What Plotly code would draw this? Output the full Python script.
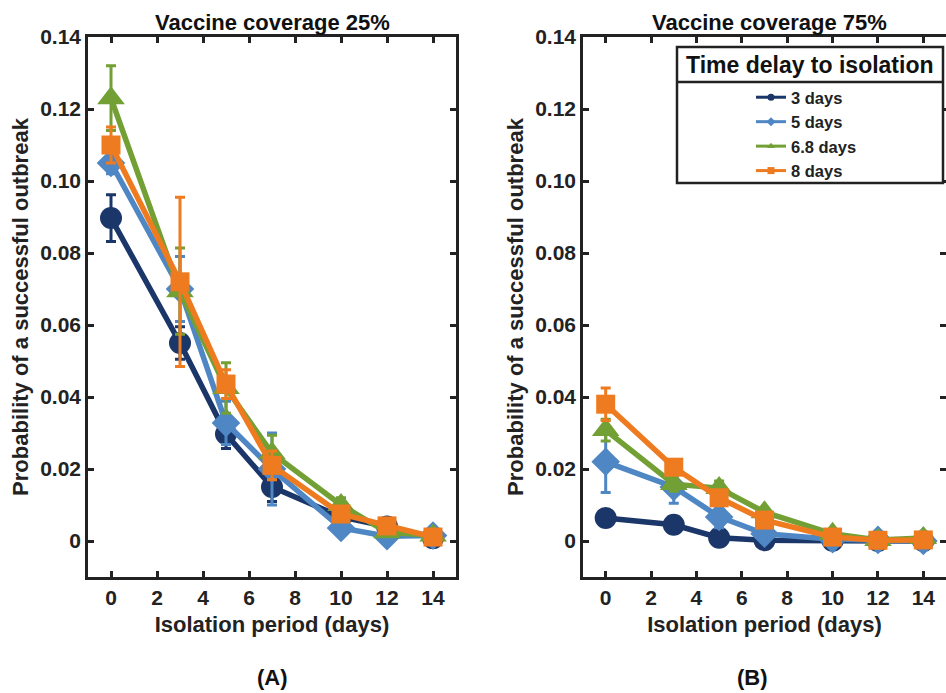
import plotly.graph_objects as go
from plotly.subplots import make_subplots

isolation_days = [0, 3, 5, 7, 10, 12, 14]
series_names = ["3 days", "5 days", "6.8 days", "8 days"]

# Panel A: vaccine coverage 25%
a_3d = [0.0897, 0.0550, 0.0297, 0.0150, 0.0067, 0.0040, 0.0008]
a_5d = [0.1050, 0.0700, 0.0328, 0.0200, 0.0036, 0.0013, 0.0015]
a_68d = [0.1230, 0.0694, 0.0425, 0.0244, 0.0100, 0.0024, 0.0015]
a_8d = [0.1100, 0.0720, 0.0436, 0.0210, 0.0075, 0.0042, 0.0011]
a_3d_err = [0.0065, 0.0045, 0.0040, 0.0040, 0.0010, 0.0005, 0.0003]
a_5d_err = [0.0030, 0.0090, 0.0060, 0.0100, 0.0010, 0.0010, 0.0005]
a_68d_err = [0.0090, 0.0120, 0.0070, 0.0050, 0.0020, 0.0010, 0.0005]
a_8d_err = [0.0050, 0.0235, 0.0040, 0.0040, 0.0020, 0.0010, 0.0005]

# Panel B: vaccine coverage 75%
b_3d = [0.0064, 0.0045, 0.0009, 0.0002, 0.0001, 0.0000, 0.0000]
b_5d = [0.0220, 0.0150, 0.0067, 0.0020, 0.0005, 0.0003, 0.0000]
b_68d = [0.0308, 0.0158, 0.0147, 0.0080, 0.0020, 0.0003, 0.0008]
b_8d = [0.0380, 0.0205, 0.0120, 0.0058, 0.0011, 0.0002, 0.0003]
b_3d_err = [0.0008, 0.0008, 0.0005, 0.0003, 0.0002, 0.0001, 0.0001]
b_5d_err = [0.0085, 0.0045, 0.0030, 0.0020, 0.0005, 0.0003, 0.0003]
b_68d_err = [0.0030, 0.0020, 0.0020, 0.0010, 0.0005, 0.0003, 0.0003]
b_8d_err = [0.0045, 0.0010, 0.0010, 0.0010, 0.0005, 0.0003, 0.0003]

y_tick_vals = [0, 0.02, 0.04, 0.06, 0.08, 0.10, 0.12, 0.14]
y_tick_text = ["0", "0.02", "0.04", "0.06", "0.08", "0.10", "0.12", "0.14"]
x_tick_vals = [0, 2, 4, 6, 8, 10, 12, 14]
legend_title = "Time delay to isolation"

colors = ["#1b3668", "#4f86c4", "#72a035", "#ee7b1f"]
symbols = ["circle", "diamond", "triangle-up", "square"]
sizes = [22, 22, 24, 19]

FONT = "Liberation Sans, Arial, sans-serif"
INK = "#222222"

fig = make_subplots(rows=1, cols=2)

panels = [
    (1, [a_3d, a_5d, a_68d, a_8d], [a_3d_err, a_5d_err, a_68d_err, a_8d_err]),
    (2, [b_3d, b_5d, b_68d, b_8d], [b_3d_err, b_5d_err, b_68d_err, b_8d_err]),
]
for col, ys, errs in panels:
    for i in range(4):
        fig.add_trace(go.Scatter(
            x=isolation_days, y=ys[i],
            mode="lines+markers",
            line=dict(color=colors[i], width=5.5),
            marker=dict(symbol=symbols[i], size=sizes[i], color=colors[i]),
            error_y=dict(type="data", array=errs[i], visible=True,
                         color=colors[i], thickness=3, width=5),
            showlegend=False, name=series_names[i],
        ), row=1, col=col)

# legend entries (small markers, as in the reference legend)
for i in range(4):
    fig.add_trace(go.Scatter(
        x=[None], y=[None], mode="lines+markers",
        line=dict(color=colors[i], width=3),
        marker=dict(symbol=symbols[i], size=7, color=colors[i]),
        name="<b>%s</b>" % series_names[i], showlegend=True,
    ), row=1, col=2)

axis_common = dict(
    showline=True, linecolor=INK, linewidth=2.5, mirror="ticks",
    ticks="inside", ticklen=6, tickwidth=2.5, tickcolor=INK,
    showgrid=False, zeroline=False, automargin=False,
    tickfont=dict(family=FONT, size=21, color=INK),
)
for c in (1, 2):
    fig.update_xaxes(range=[-1, 15], tickvals=x_tick_vals,
                     ticktext=["<b>%d</b>" % v for v in x_tick_vals],
                     title=dict(text="<b>Isolation period (days)</b>",
                                font=dict(family=FONT, size=22, color=INK), standoff=9),
                     row=1, col=c, **axis_common)
    fig.update_yaxes(range=[-0.01, 0.14], tickvals=y_tick_vals,
                     ticktext=["<b>%s</b>" % t for t in y_tick_text],
                     title=dict(text="<b>Probability of a successful outbreak</b>",
                                font=dict(family=FONT, size=22, color=INK), standoff=6),
                     row=1, col=c, **axis_common)

W, H = 946, 693
def px(x):
    return x / W
def py(y):
    return 1 - y / H

fig.update_layout(
    width=W, height=H,
    margin=dict(l=0, r=0, t=0, b=0, autoexpand=False),
    paper_bgcolor="white", plot_bgcolor="white",
    font=dict(family=FONT, color=INK),
    xaxis=dict(domain=[px(88), px(456)]),
    xaxis2=dict(domain=[px(583), 1.0]),
    yaxis=dict(domain=[py(577), py(37)]),
    yaxis2=dict(domain=[py(577), py(37)]),
    legend=dict(
        x=px(751), y=py(80), xanchor="left", yanchor="top",
        borderwidth=0, bgcolor="rgba(0,0,0,0)",
        font=dict(family=FONT, size=16.5, color=INK),
        tracegroupgap=0,
    ),
    showlegend=True,
)

# legend frame: outer box and separator line under the title
fig.add_shape(type="rect", xref="paper", yref="paper",
              x0=px(677), x1=px(943), y0=py(183), y1=py(47),
              line=dict(color=INK, width=2.5), fillcolor="white", layer="above")
fig.add_shape(type="line", xref="paper", yref="paper",
              x0=px(677), x1=px(943), y0=py(82), y1=py(82),
              line=dict(color=INK, width=2.5), layer="above")

ann_font = dict(family=FONT, size=22, color="#111111")
annotations = [
    dict(text="<b>Vaccine coverage 25%</b>", x=px(272), y=py(22)),
    dict(text="<b>Vaccine coverage 75%</b>", x=px(769), y=py(22)),
    dict(text="<b>(A)</b>", x=px(272), y=py(677)),
    dict(text="<b>(B)</b>", x=px(752), y=py(677)),
    dict(text="<b>%s</b>" % legend_title, x=px(810), y=py(65),
         font=dict(family=FONT, size=23, color="#111111")),
]
for a in annotations:
    a.update(xref="paper", yref="paper", xanchor="center", yanchor="middle",
             showarrow=False)
    a.setdefault("font", ann_font)
fig.update_layout(annotations=annotations)

fig.write_html("out.html", config={"displayModeBar": False},
               post_script="document.body.style.margin='0px';")
